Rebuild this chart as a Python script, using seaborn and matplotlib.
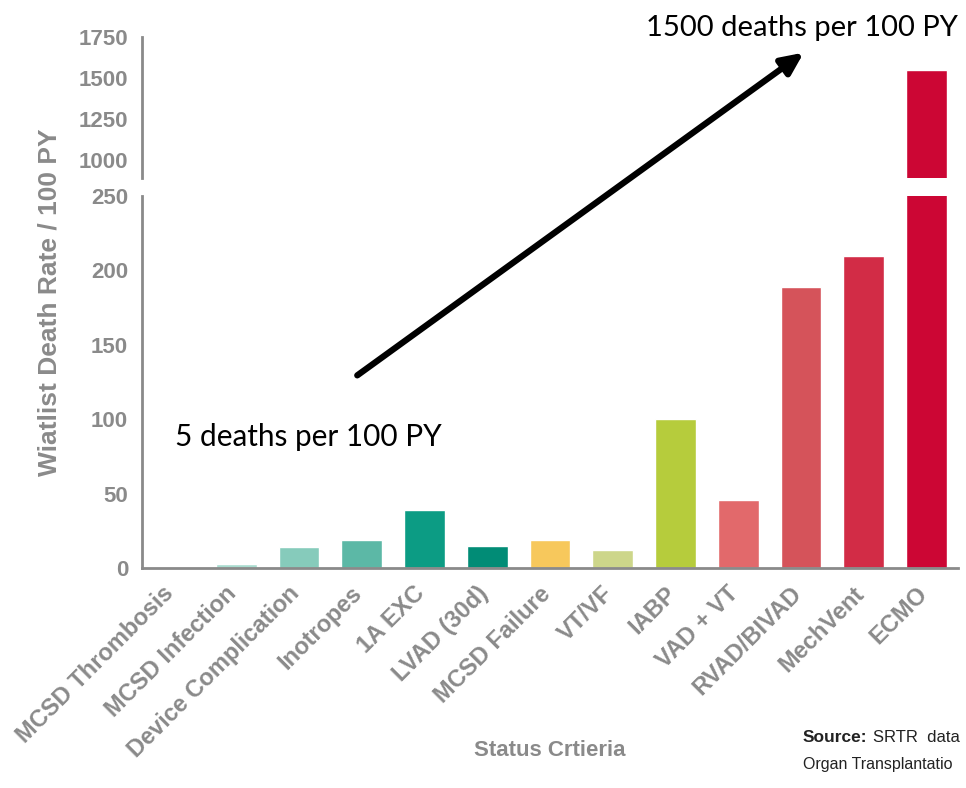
import matplotlib
matplotlib.use("Agg")
import matplotlib.pyplot as plt
import matplotlib.transforms as mtransforms
import seaborn as sns
import pandas as pd

# Waitlist death rate by status criterion (deaths per 100 patient-years)
categories = ["MCSD Thrombosis", "MCSD Infection", "Device Complication", "Inotropes",
              "1A EXC", "LVAD (30d)", "MCSD Failure", "VT/VF", "IABP", "VAD + VT",
              "RVAD/BIVAD", "MechVent", "ECMO"]
rates = [0, 3, 14, 19, 39, 15, 19, 12, 100, 46, 189, 210, 1550]
colors = ["#c9e8df", "#a9dccf", "#86cbbb", "#5cb8a6", "#0c9c84", "#018c76", "#f7c85c",
          "#cdd68a", "#b6cc3c", "#e2696b", "#d5535a", "#d22c46", "#cc0634"]

lower_ticks = [0, 50, 100, 150, 200, 250]
upper_ticks = [1000, 1250, 1500, 1750]

df = pd.DataFrame({"status": categories, "rate": rates})
palette = dict(zip(categories, colors))

sns.set_style("white")
plt.rcParams["font.family"] = ["Liberation Sans", "DejaVu Sans"]

grey = "#8a8a8a"
fig = plt.figure(figsize=(9.66, 7.88), dpi=100)
W, H = 966, 788
left, right = 142 / W, 958 / W
ax_lo = fig.add_axes([left, 1 - 568 / H, right - left, (568 - 196) / H])
ax_hi = fig.add_axes([left, 1 - 178 / H, right - left, (178 - 37) / H], sharex=ax_lo)

for ax in (ax_lo, ax_hi):
    sns.barplot(data=df, x="status", y="rate", hue="status", palette=palette,
                legend=False, width=0.65, saturation=1, ax=ax)
    for s in ("top", "right"):
        ax.spines[s].set_visible(False)
    ax.spines["left"].set_color(grey)
    ax.spines["left"].set_linewidth(2)
    ax.tick_params(axis="y", colors=grey, length=6, width=2, labelsize=16, pad=4)
    ax.set_xlim(-0.5, 12.5)
    ax.set_ylabel("")
    ax.set_xlabel("")
    ax.patch.set_alpha(0)

ax_lo.set_ylim(0, 250)
ax_lo.set_yticks(lower_ticks)
ax_lo.set_yticklabels([str(t) for t in lower_ticks], fontweight="bold")
ax_lo.spines["bottom"].set_color(grey)
ax_lo.spines["bottom"].set_linewidth(2)
ax_lo.tick_params(axis="x", colors=grey, length=6, width=2, labelsize=17, pad=10)
ax_lo.set_xticks(range(len(categories)))
ax_lo.set_xticklabels(categories, rotation=45, ha="right", va="center",
                      rotation_mode="anchor", fontweight="bold", color=grey)
shift = mtransforms.ScaledTranslation(-3 / 100, 0, fig.dpi_scale_trans)
for lab in ax_lo.get_xticklabels():
    lab.set_transform(lab.get_transform() + shift)

ax_hi.set_ylim(890, 1750)
ax_hi.set_yticks(upper_ticks)
ax_hi.set_yticklabels([str(t) for t in upper_ticks], fontweight="bold")
ax_hi.spines["bottom"].set_visible(False)
ax_hi.tick_params(axis="x", bottom=False, labelbottom=False)

fig.text(50 / W, 1 - 302 / H, "Wiatlist Death Rate / 100 PY", rotation=90,
         ha="center", va="center", color=grey, fontsize=19, fontweight="bold")
fig.text(550 / W, 1 - 750 / H, "Status Crtieria", ha="center", va="center",
         color=grey, fontsize=16, fontweight="bold")

# Trend arrow and annotations
fig.add_artist(matplotlib.patches.FancyArrowPatch(
    (355 / W, 1 - 377 / H), (806 / W, 1 - 51 / H), transform=fig.transFigure,
    arrowstyle="-|>,head_length=13,head_width=6", mutation_scale=1,
    color="black", linewidth=4.5, capstyle="round"))
ann_font = ["Lato", "DejaVu Sans"]
fig.text(175 / W, 1 - 437 / H, "5 deaths per 100 PY", ha="left", va="center",
         fontsize=21.4, family=ann_font, color="black")
fig.text(958 / W, 1 - 28 / H, "1500 deaths per 100 PY", ha="right", va="center",
         fontsize=21, family=ann_font, color="black")

src_font = ["Liberation Sans", "DejaVu Sans"]
fig.text(803 / W, 1 - 738 / H, "Source:", ha="left", va="center", fontsize=12.5,
         fontweight="bold", family=src_font, color="#222222")
fig.text(873 / W, 1 - 738 / H, "SRTR  data", ha="left", va="center", fontsize=12,
         family=src_font, color="#222222")
fig.text(803 / W, 1 - 765 / H, "Organ Transplantatio", ha="left", va="center",
         fontsize=11.5, family=src_font, color="#222222")

fig.savefig("out.png", dpi=100)
